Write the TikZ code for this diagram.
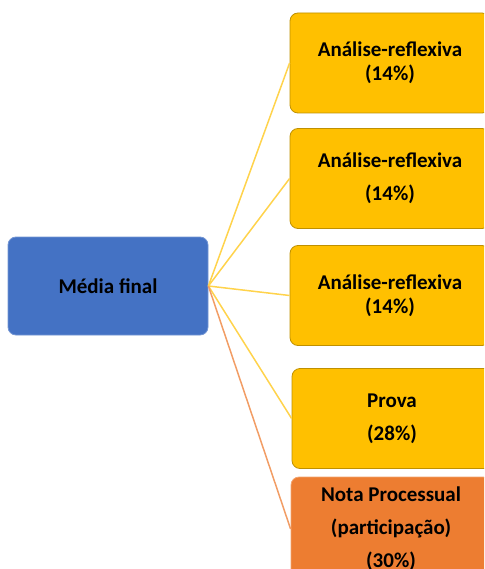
\documentclass[tikz,border=0pt]{standalone}
\usepackage{fontspec}
\setmainfont{Carlito}
\definecolor{mediablue}{HTML}{4472C4}
\definecolor{itemgold}{HTML}{FFC000}
\definecolor{itemorange}{HTML}{ED7D31}
\tikzset{
  box/.style={rounded corners=8pt, minimum width=200pt, align=center,
    inner sep=0pt, font=\fontsize{21}{24}\selectfont\bfseries},
  finalbox/.style={box, minimum height=98pt, fill=mediablue, draw=mediablue!75!white, line width=0.8pt},
  goldbox/.style={box, minimum height=100pt, fill=itemgold, draw=itemgold!75!black, line width=0.8pt},
  orangebox/.style={box, minimum height=104pt, fill=itemorange, draw=itemorange!70!white, line width=0.8pt},
  goldlink/.style={draw=itemgold!70!white, line width=1.5pt},
  orangelink/.style={draw=itemorange!75!white, line width=1.5pt}
}
\begin{document}
\begin{tikzpicture}[x=1pt,y=-1pt]
                %\draw[help lines] (0,0) grid (484,569);
                \useasboundingbox (0,0) rectangle (484,569);
                \clip (0,0) rectangle (484,569);
                \node[finalbox] (mf) at (108,286) {Média final};
                \node[goldbox] (ar1) at (390,63) {Análise-reflexiva\\(14\%)};
                \node[goldbox] (ar2) at (390,178.5) {Análise-reflexiva\\[9pt](14\%)};
                \node[goldbox] (ar3) at (390,295.5) {Análise-reflexiva\\(14\%)};
                \node[goldbox] (pv) at (392,418.5) {Prova\\[9pt](28\%)};
                \node[orangebox] (np) at (391,529) {Nota Processual\\[9pt](participação)\\[9pt](30\%)};
                \draw[goldlink] (mf.east) -- (ar1.west);
                \draw[goldlink] (mf.east) -- (ar2.west);
                \draw[goldlink] (mf.east) -- (ar3.west);
                \draw[goldlink] (mf.east) -- (pv.west);
                \draw[orangelink] (mf.east) -- (np.west);
            \end{tikzpicture}
\end{document}
